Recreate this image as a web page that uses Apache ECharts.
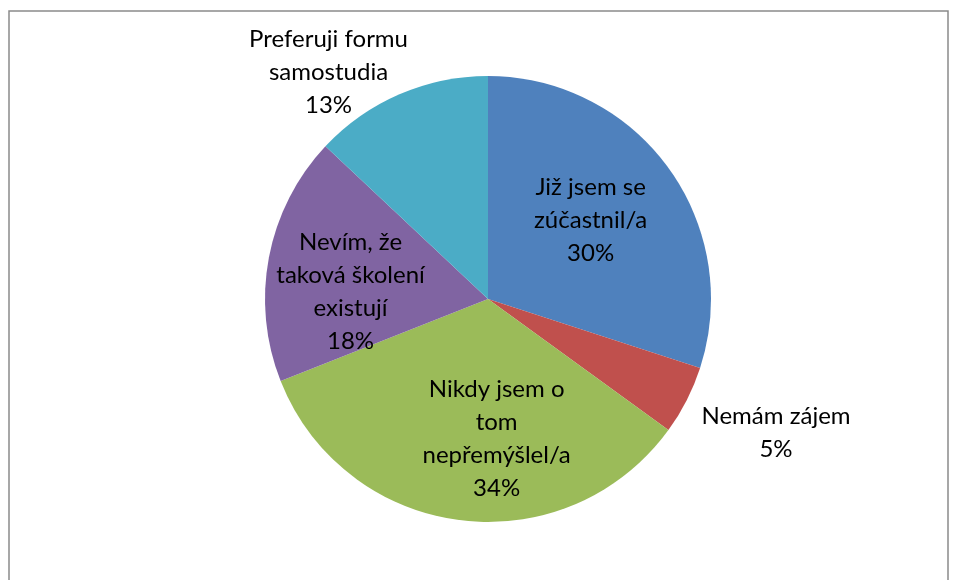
<!DOCTYPE html>
<html>
<head>
<meta charset="utf-8">
<script src="https://cdn.jsdelivr.net/npm/echarts@6/dist/echarts.min.js"></script>
<style>
  html, body { margin: 0; padding: 0; background: #fff; }
  #chart { width: 957px; height: 580px; }
</style>
</head>
<body>
<div id="chart"></div>
<script>
// categories (wrapped as in the original labels) and percentages
const categories = [
  'Již jsem se\nzúčastnil/a',
  'Nemám zájem',
  'Nikdy jsem o\ntom\nnepřemýšlel/a',
  'Nevím, že\ntaková školení\nexistují',
  'Preferuji formu\nsamostudia'
]
const values = [30, 5, 34, 18, 13]
const colors = ['#4F81BD', '#C0504D', '#9BBB59', '#8064A2', '#4BACC6']
// label nudges from the default inside position
const labelOffsets = [[10, -11], [186, 82], [23, 26], [-25, 14], [-114, -122]]

const chart = echarts.init(document.getElementById('chart'))
chart.setOption({
  backgroundColor: '#fff',
  animation: false,
  graphic: [{
    type: 'rect',
    shape: { x: 9, y: 11, width: 939, height: 620 },
    style: { fill: 'none', stroke: '#8a8a8a', lineWidth: 1.5 },
    silent: true
  }],
  series: [{
    type: 'pie',
    center: [488, 299],
    radius: 223,
    startAngle: 90,
    clockwise: true,
    itemStyle: { borderWidth: 0 },
    label: {
      position: 'inside',
      color: '#000',
      fontFamily: 'Lato',
      fontSize: 24,
      lineHeight: 33,
      align: 'center',
      formatter(p) {
        return p.name + '\n' + Math.round(p.percent) + '%'
      }
    },
    labelLine: { show: false },
    emphasis: { disabled: true },
    data: categories.map((name, i) => ({
      name: name,
      value: values[i],
      itemStyle: { color: colors[i] },
      label: { offset: labelOffsets[i] }
    }))
  }]
})
</script>
</body>
</html>
